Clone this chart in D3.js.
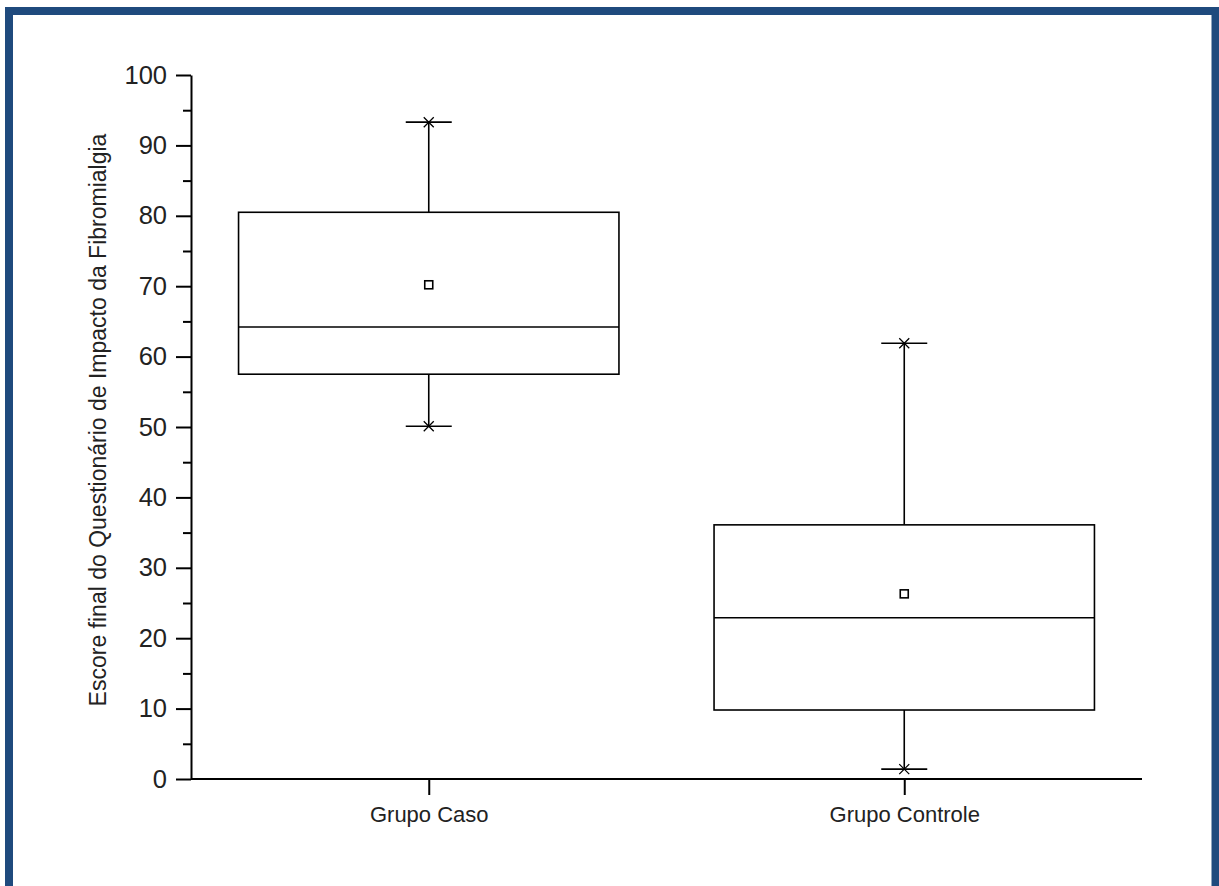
<!DOCTYPE html>
<html>
<head>
<meta charset="utf-8">
<script src="https://cdn.jsdelivr.net/npm/d3@7"></script>
<style>
  html, body { margin: 0; padding: 0; background: #ffffff; }
  svg { display: block; }
  text { font-family: "Liberation Sans", Arial, sans-serif; fill: #222; }
</style>
</head>
<body>
<svg id="chart" width="1219" height="886"></svg>
<script>
// Box plot summaries per group
const groups   = ["Grupo Caso", "Grupo Controle"];
const whiskLow = [50.1, 1.4];
const q1       = [57.5, 9.8];
const median   = [64.2, 22.9];
const q3       = [80.5, 36.1];
const whiskHigh= [93.3, 61.9];
const means    = [70.2, 26.3];
const yTicks   = [0, 10, 20, 30, 40, 50, 60, 70, 80, 90, 100];
const yMinor   = [5, 15, 25, 35, 45, 55, 65, 75, 85, 95];
const yLabel   = "Escore final do Questionário de Impacto da Fibromialgia";

const svg = d3.select("#chart");
const W = 1219, H = 886;

// frame
svg.append("rect")
  .attr("x", 9).attr("y", 11)
  .attr("width", W - 9 - 3.5).attr("height", H - 11 + 10)
  .attr("fill", "none")
  .attr("stroke", "#1f4a7d")
  .attr("stroke-width", 8);

const plotLeft = 191, plotRight = 1142, plotTop = 75, plotBottom = 779;

const x = d3.scalePoint().domain(groups).range([plotLeft, plotRight]).padding(0.5);
const y = d3.scaleLinear().domain([0, 100]).range([plotBottom, plotTop]);
const boxW = (plotRight - plotLeft) * 0.4;
const capW = 46;

// y axis
const yAxis = d3.axisLeft(y).tickValues(yTicks).tickSize(15).tickSizeOuter(0).tickPadding(9);
const gy = svg.append("g").attr("transform", `translate(${plotLeft},0)`).call(yAxis);
gy.select(".domain").attr("stroke", "#000").attr("stroke-width", 2);
gy.selectAll(".tick line").attr("stroke", "#000").attr("stroke-width", 2);
gy.selectAll(".tick text").attr("font-size", 25.5).attr("fill", "#222")
  .attr("font-family", "Liberation Sans, Arial, sans-serif");

const yAxisMinor = d3.axisLeft(y).tickValues(yMinor).tickSize(8).tickFormat("");
const gym = svg.append("g").attr("transform", `translate(${plotLeft},0)`).call(yAxisMinor);
gym.select(".domain").remove();
gym.selectAll(".tick line").attr("stroke", "#000").attr("stroke-width", 2);

// x axis
const xAxis = d3.axisBottom(x).tickSize(16).tickSizeOuter(0).tickPadding(11);
const gx = svg.append("g").attr("transform", `translate(0,${plotBottom})`).call(xAxis);
gx.select(".domain").attr("stroke", "#000").attr("stroke-width", 2)
  .attr("d", `M${plotLeft},0H${plotRight}`);
gx.selectAll(".tick line").attr("stroke", "#000").attr("stroke-width", 2);
gx.selectAll(".tick text").attr("font-size", 22).attr("fill", "#222")
  .attr("font-family", "Liberation Sans, Arial, sans-serif");

// y label
svg.append("text")
  .attr("transform", `translate(106,420) rotate(-90)`)
  .attr("text-anchor", "middle")
  .attr("font-size", 23)
  .text(yLabel);

// boxes
const data = groups.map((g, i) => ({
  g, lo: whiskLow[i], q1: q1[i], med: median[i], q3: q3[i], hi: whiskHigh[i], mean: means[i]
}));

const gb = svg.append("g").attr("stroke", "#000").attr("stroke-width", 1.6).attr("fill", "none");

data.forEach(d => {
  const cx = x(d.g);
  // whiskers
  gb.append("line").attr("x1", cx).attr("x2", cx).attr("y1", y(d.q3)).attr("y2", y(d.hi));
  gb.append("line").attr("x1", cx).attr("x2", cx).attr("y1", y(d.q1)).attr("y2", y(d.lo));
  // caps
  [d.hi, d.lo].forEach(v => {
    gb.append("line").attr("x1", cx - capW / 2).attr("x2", cx + capW / 2)
      .attr("y1", y(v)).attr("y2", y(v));
    const s = 5;
    gb.append("path")
      .attr("d", `M${cx - s},${y(v) - s}L${cx + s},${y(v) + s}M${cx - s},${y(v) + s}L${cx + s},${y(v) - s}`)
      .attr("stroke-width", 1.3);
  });
  // box
  gb.append("rect")
    .attr("x", cx - boxW / 2).attr("width", boxW)
    .attr("y", y(d.q3)).attr("height", y(d.q1) - y(d.q3))
    .attr("fill", "#fff");
  // median
  gb.append("line").attr("x1", cx - boxW / 2).attr("x2", cx + boxW / 2)
    .attr("y1", y(d.med)).attr("y2", y(d.med));
  // mean
  gb.append("rect")
    .attr("x", cx - 4).attr("y", y(d.mean) - 4)
    .attr("width", 8).attr("height", 8)
    .attr("stroke-width", 1.6);
});
</script>
</body>
</html>
